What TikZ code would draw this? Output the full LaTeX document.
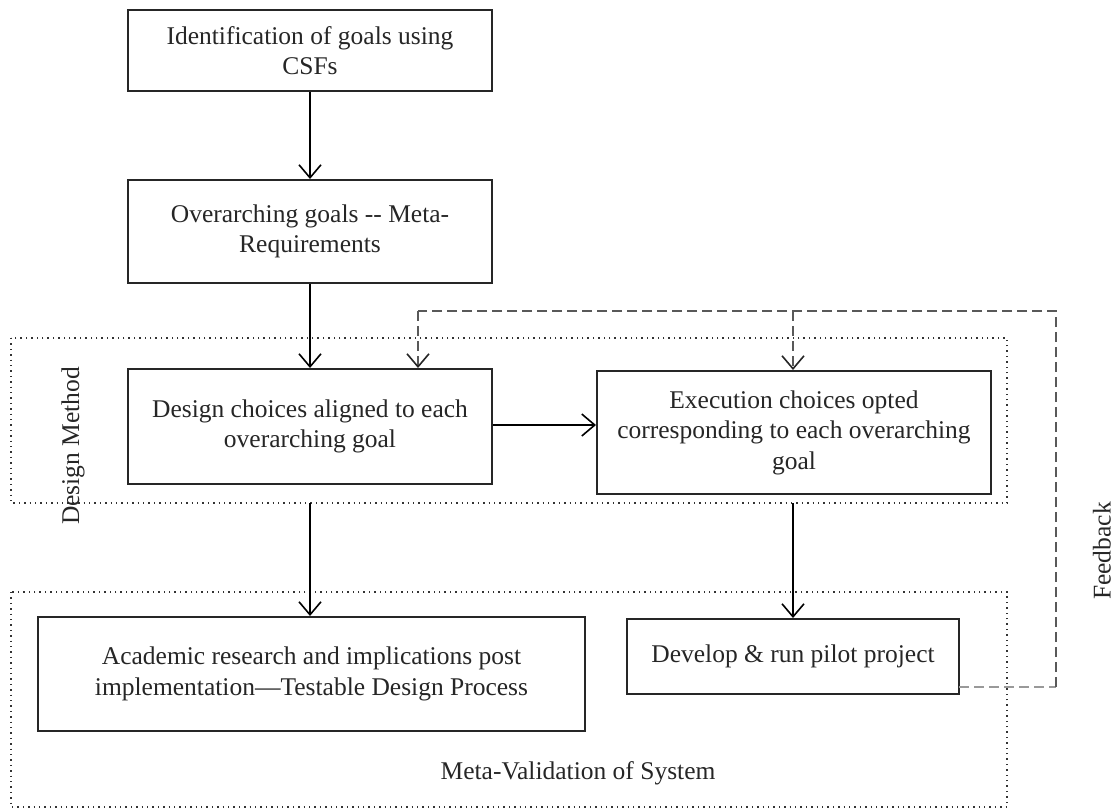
\documentclass[tikz,border=0pt]{standalone}
\usepackage{fontspec}
\setmainfont{Liberation Serif}
\usetikzlibrary{arrows.meta}
\begin{document}
\begin{tikzpicture}[x=0.5pt,y=-0.5pt,
  box/.style={draw=black!85, line width=1pt, fill=white, inner sep=0pt, align=center,
    font=\fontsize{12.75}{15.3}\selectfont, text=black!85},
  region/.style={draw=black!80, line width=0.7pt, dotted},
  arr/.style={-{Straight Barb[length=6.5pt,width=11pt,line width=0.8pt]}, line width=0.9pt, black},
  fb/.style={dash pattern=on 5pt off 2.5pt, line width=0.8pt, black!65},
  fbarr/.style={fb, -{Straight Barb[length=6.5pt,width=11pt,line width=0.8pt,color=black!85]}},
  lbl/.style={font=\fontsize{12.75}{15.3}\selectfont, text=black!85, inner sep=0pt}]
\useasboundingbox (0,0) rectangle (1118,810);

% regions
\draw[region] (11,338) rectangle (1007,503);
\draw[region] (11,592) rectangle (1007,807);

% boxes
\node[box, minimum width=182pt, minimum height=40.5pt] (b1) at (310,50.5) {Identification of goals using\\CSFs};
\node[box, minimum width=182pt, minimum height=51.5pt] (b2) at (310,231.5) {Overarching goals {-}{-} Meta-\\Requirements};
\node[box, minimum width=182pt, minimum height=57.5pt] (b3) at (310,426.5) {Design choices aligned to each\\overarching goal};
\node[box, minimum width=197pt, minimum height=61.5pt] (b4) at (794,432.5) {Execution choices opted\\corresponding to each overarching\\goal};
\node[box, minimum width=273.5pt, minimum height=57pt] (b5) at (311.5,674) {Academic research and implications post\\implementation---Testable Design Process};
\node[box, minimum width=166pt, minimum height=37.5pt] (b6) at (793,656.5) {Develop \& run pilot project};

% labels
\node[lbl, rotate=90] (ldm) at (73,446) {Design Method};
\node[lbl] (lmv) at (578,773) {Meta-Validation of System};
\node[lbl, rotate=90] (lfb) at (1102,551) {Feedback};

% arrows
\draw[arr] (b1) -- (b2);
\draw[arr] (b2) -- (b3);
\draw[arr] ([yshift=0.75pt]b3.east) -- ([yshift=0.75pt]b3.east -| b4.west);
\coordinate (d1) at (310,503);
\coordinate (d2) at (793,503);
\draw[arr] (d1) -- (d1 |- b5.north);
\draw[arr] (d2) -- (d2 |- b6.north);

% feedback loop
\coordinate (f0) at (959,687);
\coordinate (f1) at (1056,687);
\coordinate (f2) at (1056,311);
\coordinate (f3) at (418,311);
\coordinate (f4) at (793,311);
\draw[fb, black!40] (f0) -- (f1);
\draw[fb] (f1) -- (f2) -- (f3);
\draw[fbarr] (f3) -- (f3 |- b3.north);
\draw[fbarr] (f4) -- (f4 |- b4.north);
\end{tikzpicture}
\end{document}
